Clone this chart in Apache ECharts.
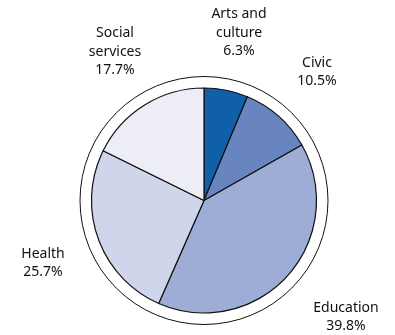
<!DOCTYPE html>
<html>
<head>
<meta charset="utf-8">
<script src="https://cdn.jsdelivr.net/npm/echarts@6/dist/echarts.min.js"></script>
<style>html,body{margin:0;padding:0;background:#fff;}#c{width:395px;height:335px;}</style>
</head>
<body>
<div id="c"></div>
<script>
const categories = ['Arts and\nculture', 'Civic', 'Education', 'Health', 'Social\nservices'];
const values = [6.3, 10.5, 39.8, 25.7, 17.7];
const colors = ['#0f5fa9', '#6985c0', '#9eadd6', '#cfd5ea', '#ededf6'];
const labelPos = [[239, 33], [317, 72], [346, 317], [43, 263], [115, 52]];

const chart = echarts.init(document.getElementById('c'));
chart.setOption({
  animation: false,
  series: [
    {
      type: 'pie',
      silent: true,
      center: [204, 200.5],
      radius: 124,
      z: 1,
      label: { show: false },
      labelLine: { show: false },
      itemStyle: { color: '#fff', borderColor: '#111', borderWidth: 1 },
      data: [{ value: 1, name: 'ring' }]
    },
    {
      type: 'pie',
      center: [204, 200.5],
      radius: 112.5,
      startAngle: 90,
      clockwise: true,
      z: 2,
      itemStyle: { borderColor: '#111', borderWidth: 1.2 },
      labelLine: { show: false },
      label: {
        show: true,
        position: 'outside',
        overflow: 'none',
        edgeDistance: 0,
        formatter: p => p.name + '\n' + p.value.toFixed(1) + '%',
        fontFamily: 'Noto Sans',
        fontSize: 14,
        lineHeight: 18.5,
        color: '#111',
        align: 'center'
      },
      labelLayout: function (p) {
        const pos = labelPos[p.dataIndex];
        return { x: pos[0], y: pos[1], align: 'center', verticalAlign: 'middle', hideOverlap: false };
      },
      data: categories.map((c, i) => ({ name: c, value: values[i], itemStyle: { color: colors[i] } }))
    }
  ]
});
</script>
</body>
</html>
